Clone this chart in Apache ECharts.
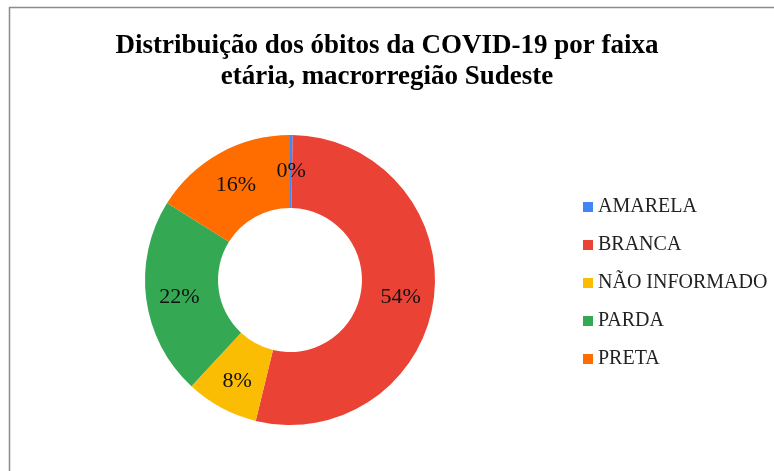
<!DOCTYPE html>
<html>
<head>
<meta charset="utf-8">
<script src="https://cdn.jsdelivr.net/npm/echarts@6/dist/echarts.min.js"></script>
<style>
  html, body { margin: 0; padding: 0; background: #fff; }
  #chart { width: 774px; height: 471px; }
</style>
</head>
<body>
<div id="chart"></div>
<script>
// dados
var categorias = ['AMARELA', 'BRANCA', 'NÃO INFORMADO', 'PARDA', 'PRETA'];
var valores = [0.3, 53.5, 8.1, 22.0, 16.1];
var cores = ['#4285F4', '#EA4335', '#FBBC04', '#34A853', '#FF6D01'];

var FONTE = '"Liberation Serif", "DejaVu Serif", serif';

var chart = echarts.init(document.getElementById('chart'));

var dados = [];
for (var i = 0; i < categorias.length; i++) {
    dados.push({ name: categorias[i], value: valores[i], itemStyle: { color: cores[i] } });
}

chart.setOption({
    animation: false,
    graphic: [{
        type: 'rect',
        shape: { x: 9.5, y: 7.5, width: 800, height: 500 },
        style: { fill: 'none', stroke: '#8c8c8c', lineWidth: 1.5 }
    }],
    title: {
        text: 'Distribuição dos óbitos da COVID-19 por faixa\netária, macrorregião Sudeste',
        left: 'center',
        top: 26,
        textStyle: {
            fontFamily: FONTE,
            fontWeight: 'bold',
            fontSize: 27,
            lineHeight: 31,
            color: '#000'
        }
    },
    legend: {
        orient: 'vertical',
        left: 578,
        top: 192,
        itemWidth: 10,
        itemHeight: 10,
        itemGap: 18,
        icon: 'rect',
        data: categorias,
        textStyle: {
            fontFamily: FONTE,
            fontSize: 20,
            color: '#222',
            lineHeight: 18
        }
    },
    series: [{
        type: 'pie',
        center: [290, 280],
        radius: [72, 145],
        startAngle: 90,
        clockwise: true,
        avoidLabelOverlap: false,
        label: {
            position: 'inside',
            fontFamily: FONTE,
            fontSize: 22,
            color: '#111',
            offset: [0, 3],
            formatter: function (p) { return Math.round(p.percent) + '%'; }
        },
        labelLine: { show: false },
        itemStyle: { borderWidth: 0 },
        emphasis: { disabled: true },
        data: dados
    }]
});
</script>
</body>
</html>
